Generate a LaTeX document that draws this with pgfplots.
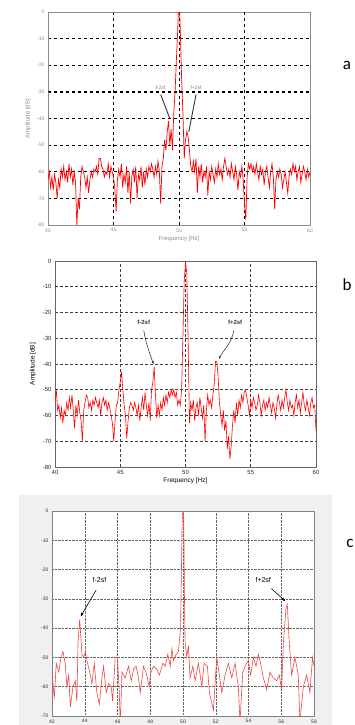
\documentclass[border=0pt]{standalone}
\usepackage{fontspec}
\setmainfont{Liberation Sans}
\newfontfamily\carlito{Carlito}
\usepackage{pgfplots}
\pgfplotsset{compat=1.18}
\usetikzlibrary{arrows.meta}
\pgfplotstableread{
f db
40.0 -63
40.1 -60
40.2 -66
40.3 -62
40.4 -67
40.5 -61
40.6 -64
40.7 -70
40.8 -63
40.9 -66
41.0 -59
41.1 -62
41.2 -58
41.3 -63
41.4 -60
41.5 -64
41.6 -57
41.7 -62
41.8 -59
41.9 -65
42.0 -60
42.1 -64
42.2 -80
42.3 -70
42.4 -74
42.5 -62
42.6 -58
42.7 -60
42.8 -62
42.9 -66
43.0 -62
43.1 -68
43.2 -63
43.3 -60
43.4 -62
43.5 -59
43.6 -60
43.7 -58
43.8 -61
43.9 -55
44.0 -55
44.1 -58
44.2 -59
44.3 -62
44.4 -60
44.5 -61
44.6 -57
44.7 -62
44.8 -58
44.9 -60
45.0 -62
45.1 -66
45.2 -75
45.3 -63
45.4 -59
45.5 -62
45.6 -57
45.7 -66
45.8 -61
45.9 -64
46.0 -58
46.1 -68
46.2 -60
46.3 -72
46.4 -62
46.5 -59
46.6 -64
46.7 -58
46.8 -70
46.9 -61
47.0 -63
47.1 -58
47.2 -66
47.3 -60
47.4 -65
47.5 -59
47.6 -62
47.7 -58
47.8 -60
47.9 -57
48.0 -59
48.1 -62
48.2 -58
48.3 -61
48.4 -56
48.5 -60
48.6 -72
48.7 -58
48.8 -55
48.9 -48
49.0 -52
49.1 -45
49.2 -41
49.3 -50
49.4 -44
49.5 -52
49.6 -38
49.7 -30
49.8 -18
49.9 -7
49.95 0
50.05 0
50.1 -7
50.2 -25
50.3 -38
50.4 -55
50.5 -48
50.6 -45
50.7 -47
50.8 -52
50.9 -58
51.0 -60
51.1 -56
51.2 -60
51.3 -55
51.4 -68
51.5 -58
51.6 -62
51.7 -57
51.8 -64
51.9 -60
52.0 -62
52.1 -58
52.2 -69
52.3 -60
52.4 -63
52.5 -58
52.6 -61
52.7 -64
52.8 -59
52.9 -62
53.0 -57
53.1 -61
53.2 -59
53.3 -63
53.4 -58
53.5 -55
53.6 -58
53.7 -61
53.8 -59
53.9 -62
54.0 -57
54.1 -60
54.2 -63
54.3 -58
54.4 -61
54.5 -67
54.6 -60
54.7 -62
54.8 -58
54.9 -63
55.0 -72
55.1 -78
55.2 -62
55.3 -57
55.4 -59
55.5 -57
55.6 -60
55.7 -58
55.8 -61
55.9 -57
56.0 -60
56.1 -63
56.2 -58
56.3 -61
56.4 -59
56.5 -65
56.6 -60
56.7 -58
56.8 -62
56.9 -66
57.0 -60
57.1 -57
57.2 -62
57.3 -74
57.4 -63
57.5 -60
57.6 -62
57.7 -59
57.8 -61
57.9 -66
58.0 -63
58.1 -60
58.2 -64
58.3 -68
58.4 -62
58.5 -59
58.6 -61
58.7 -57
58.8 -60
58.9 -58
59.0 -63
59.1 -60
59.2 -58
59.3 -64
59.4 -61
59.5 -58
59.6 -60
59.7 -63
59.8 -59
59.9 -62
60.0 -60
}\dataA
\pgfplotstableread{
f db
40.0 -55
40.1 -50
40.2 -58
40.3 -56
40.4 -61
40.5 -57
40.6 -63
40.7 -58
40.8 -60
40.9 -55
41.0 -58
41.1 -53
41.2 -57
41.3 -52
41.4 -58
41.5 -65
41.6 -56
41.7 -60
41.8 -54
41.9 -59
42.0 -62
42.1 -70
42.2 -58
42.3 -55
42.4 -52
42.5 -53
42.6 -57
42.7 -55
42.8 -58
42.9 -54
43.0 -56
43.1 -53
43.2 -55
43.3 -57
43.4 -54
43.5 -60
43.6 -55
43.7 -53
43.8 -56
43.9 -54
44.0 -58
44.1 -55
44.2 -57
44.3 -60
44.4 -63
44.5 -70
44.6 -62
44.7 -56
44.8 -55
44.9 -50
45.0 -47
45.1 -43
45.2 -50
45.3 -56
45.4 -60
45.5 -69
45.6 -62
45.7 -57
45.8 -55
45.9 -56
46.0 -58
46.1 -55
46.2 -57
46.3 -60
46.4 -56
46.5 -62
46.6 -57
46.7 -53
46.8 -58
46.9 -51
47.0 -56
47.1 -60
47.2 -55
47.3 -62
47.4 -50
47.5 -47
47.6 -41
47.7 -52
47.8 -61
47.9 -56
48.0 -60
48.1 -55
48.2 -58
48.3 -53
48.4 -56
48.5 -52
48.6 -55
48.7 -51
48.8 -53
48.9 -50
49.0 -52
49.1 -50
49.2 -53
49.3 -51
49.4 -56
49.5 -54
49.6 -56
49.7 -50
49.8 -30
49.9 -8
50.0 0
50.1 -5
50.2 -30
50.3 -63
50.4 -55
50.5 -58
50.6 -54
50.7 -62
50.8 -57
50.9 -55
51.0 -60
51.1 -53
51.2 -57
51.3 -61
51.4 -56
51.5 -70
51.6 -58
51.7 -52
51.8 -56
51.9 -54
52.0 -57
52.1 -52
52.2 -48
52.3 -39
52.4 -39
52.5 -45
52.6 -55
52.7 -60
52.8 -64
52.9 -58
53.0 -66
53.1 -62
53.2 -73
53.3 -68
53.4 -77
53.5 -72
53.6 -64
53.7 -58
53.8 -63
53.9 -55
54.0 -60
54.1 -54
54.2 -57
54.3 -52
54.4 -55
54.5 -51
54.6 -50
54.7 -53
54.8 -56
54.9 -60
55.0 -54
55.1 -57
55.2 -53
55.3 -55
55.4 -58
55.5 -56
55.6 -52
55.7 -55
55.8 -60
55.9 -56
56.0 -54
56.1 -58
56.2 -55
56.3 -57
56.4 -53
56.5 -56
56.6 -59
56.7 -55
56.8 -57
56.9 -61
57.0 -56
57.1 -52
57.2 -55
57.3 -58
57.4 -54
57.5 -57
57.6 -53
57.7 -50
57.8 -55
57.9 -58
58.0 -54
58.1 -57
58.2 -56
58.3 -60
58.4 -55
58.5 -52
58.6 -57
58.7 -54
58.8 -59
58.9 -55
59.0 -51
59.1 -56
59.2 -58
59.3 -54
59.4 -57
59.5 -60
59.6 -55
59.7 -53
59.8 -57
59.9 -56
60.0 -66
}\dataB
\pgfplotstableread{
f db
42.00 -55
42.14 -64
42.26 -52
42.41 -55
42.55 -50
42.67 -48
42.81 -52
42.91 -60
43.02 -56
43.12 -67
43.28 -60
43.42 -58
43.52 -65
43.59 -45
43.69 -37
43.83 -49
43.93 -50
44.03 -48
44.17 -52
44.34 -56
44.44 -59
44.58 -52
44.74 -62
44.89 -66
45.05 -57
45.15 -53
45.31 -62
45.46 -59
45.62 -60
45.70 -65
45.86 -50
46.00 -50
46.11 -62
46.17 -74
46.27 -55
46.47 -57
46.67 -53
46.84 -58
46.98 -54
47.14 -53
47.28 -57
47.39 -62
47.59 -53
47.79 -56
47.93 -60
48.04 -55
48.20 -53
48.40 -54
48.56 -56
48.77 -52
48.91 -53
49.07 -49
49.22 -53
49.32 -47
49.42 -51
49.58 -49
49.72 -48
49.85 -40
49.96 0
50.04 0
50.09 -30
50.13 -45
50.23 -50
50.33 -46
50.43 -57
50.60 -53
50.74 -58
50.94 -52
51.15 -60
51.29 -52
51.49 -53
51.61 -62
51.86 -68
52.06 -50
52.22 -56
52.37 -62
52.57 -56
52.77 -52
52.98 -57
53.18 -52
53.38 -60
53.48 -72
53.65 -55
53.79 -53
53.99 -51
54.13 -56
54.30 -50
54.46 -53
54.60 -49
54.74 -52
54.91 -57
55.11 -61
55.31 -55
55.52 -57
55.72 -58
55.88 -56
56.02 -61
56.13 -45
56.29 -33
56.37 -32
56.49 -45
56.63 -56
56.84 -50
57.04 -56
57.14 -72
57.35 -60
57.55 -56
57.75 -62
57.91 -50
58.00 -53
}\dataC
\begin{document}
\begin{tikzpicture}
\useasboundingbox (0pt,0pt) rectangle (354pt,725pt);
\fill[black!6] (19pt,0pt) rectangle (332pt,230pt);
% panel a
\begin{axis}[at={(48pt,500pt)}, anchor=south west, scale only axis,
  width=262pt, height=213pt,
  xmin=40, xmax=60, ymin=-80, ymax=0,
  xtick={40,45,50,55,60}, ytick={-80,-70,-60,-50,-40,-30,-20,-10,0},
  grid=major, major grid style={dashed, black, line width=0.6pt},
  axis line style={black!45, line width=0.8pt},
  major tick length=0pt,
  /pgf/number format/assume math mode=true,
  ticklabel style={font=\fontsize{5}{6}\selectfont, text=black!45},
  xlabel={Frequency [Hz]}, ylabel={Amplitude [dB]},
  label style={font=\fontsize{6}{7}\selectfont, text=black!45},
  xlabel style={at={(axis description cs:0.5,-14/213)}, anchor=center},
  ylabel style={at={(axis description cs:-20/262,0.5)}, anchor=center},
  axis background/.style={fill=white}]
\draw[black, dashed, line width=1.1pt] (axis cs:55,-80) -- (axis cs:55,0);
\draw[black, dashed, line width=1.1pt] (axis cs:40,-30) -- (axis cs:60,-30);
\addplot[red, line width=0.7pt, mark=none] table[x=f, y=db] {\dataA};
\node[font=\fontsize{5}{6}\selectfont, text=black!50] at (axis cs:48.6,-28.3) {f-2sf};
\node[font=\fontsize{5}{6}\selectfont, text=black!50] at (axis cs:51.3,-28.3) {f+2sf};
\draw[black!80, line width=0.9pt] (axis cs:48.6,-31) -- (axis cs:49.3,-40);
\draw[black!80, line width=0.9pt] (axis cs:51.3,-31) -- (axis cs:50.75,-45);
\end{axis}
\node[font=\carlito\fontsize{17}{20}\selectfont] at (347pt,660pt) {a};
% panel b
\begin{axis}[at={(55pt,258pt)}, anchor=south west, scale only axis,
  width=261pt, height=206pt,
  xmin=40, xmax=60, ymin=-80, ymax=0,
  xtick={40,45,50,55,60}, ytick={-80,-70,-60,-50,-40,-30,-20,-10,0},
  grid=major, major grid style={densely dashed, black!75, line width=0.6pt},
  axis line style={black!60, line width=0.6pt},
  major tick length=0pt,
  /pgf/number format/assume math mode=true,
  ticklabel style={font=\fontsize{6}{7}\selectfont, text=black!85},
  xlabel={Frequency [Hz]}, ylabel={Amplitude [dB]},
  label style={font=\fontsize{6.5}{7.5}\selectfont},
  xlabel style={at={(axis description cs:0.5,-14/206)}, anchor=center},
  ylabel style={at={(axis description cs:-22/261,0.5)}, anchor=center},
  axis background/.style={fill=white}]
\draw[black!80, densely dashed, line width=0.9pt] (axis cs:40,-10) -- (axis cs:60,-10);
\addplot[red, line width=0.6pt, mark=none] table[x=f, y=db] {\dataB};
\node[font=\fontsize{6}{7}\selectfont\bfseries, text=black!80] at (axis cs:46.8,-24) {f-2sf};
\node[font=\fontsize{6}{7}\selectfont\bfseries, text=black!80] at (axis cs:53.8,-24) {f+2sf};
\draw[black!85, line width=0.5pt, -{Stealth[length=3pt]}] (axis cs:46.8,-27) to[out=-80,in=110] (axis cs:47.55,-40);
\draw[black!85, line width=0.5pt, -{Stealth[length=3pt]}] (axis cs:53.7,-27) to[out=-100,in=60] (axis cs:52.55,-38);
\end{axis}
\node[font=\carlito\fontsize{17}{20}\selectfont] at (347pt,440pt) {b};
% panel c
\begin{axis}[at={(52pt,9pt)}, anchor=south west, scale only axis,
  width=262pt, height=205pt,
  xmin=42, xmax=58, ymin=-70, ymax=0,
  xtick={42,44,...,58}, ytick={-70,-60,-50,-40,-30,-20,-10,0},
  grid=major, major grid style={densely dotted, black!60, line width=0.5pt},
  axis line style={black!50, line width=0.6pt},
  major tick length=0pt,
  /pgf/number format/assume math mode=true,
  ticklabel style={font=\fontsize{5}{6}\selectfont, text=black!80},
  axis background/.style={fill=white}]
\addplot[color={rgb,255:red,240;green,70;blue,70}, line width=0.6pt, mark=none] table[x=f, y=db] {\dataC};
\node[font=\fontsize{7}{8}\selectfont] at (axis cs:44.9,-23.5) {f-2sf};
\node[font=\fontsize{7}{8}\selectfont] at (axis cs:54.9,-23.5) {f+2sf};
\draw[black, line width=0.6pt, -{Stealth[length=4pt]}] (axis cs:44.7,-27) -- (axis cs:43.75,-36);
\draw[black, line width=0.6pt, -{Stealth[length=4pt]}] (axis cs:55.4,-26.5) -- (axis cs:56.25,-30.8);
\end{axis}
\node[font=\carlito\fontsize{17}{20}\selectfont] at (350pt,182pt) {c};
\end{tikzpicture}
\end{document}
